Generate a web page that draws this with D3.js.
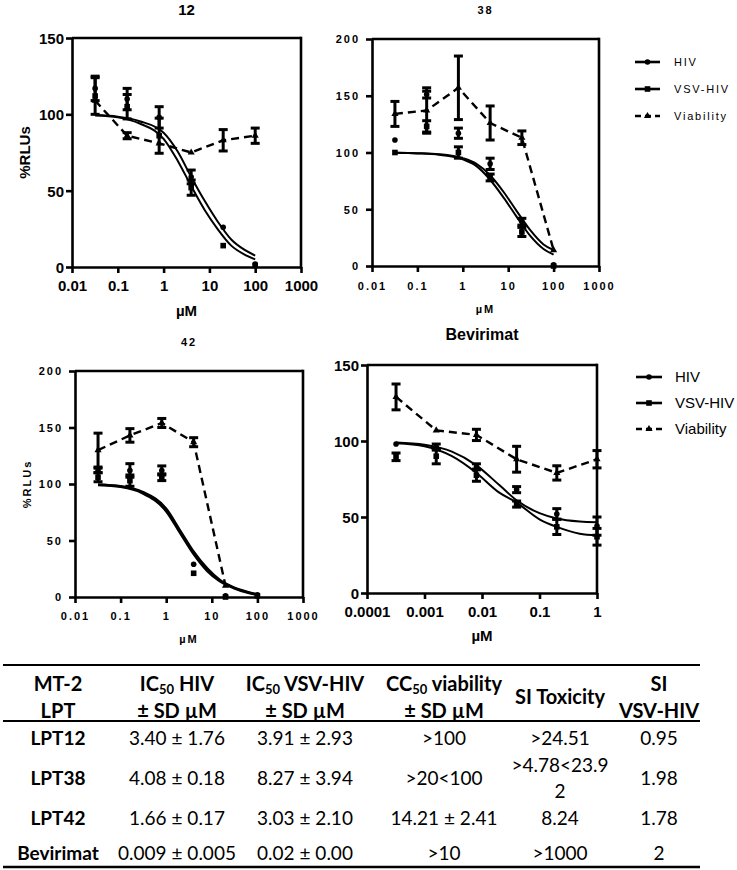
<!DOCTYPE html>
<html>
<head>
<meta charset="utf-8">
<script src="https://cdn.jsdelivr.net/npm/d3@7"></script>
<style>
  body { margin: 0; background: #fff; }
  svg { display: block; }
</style>
</head>
<body>
<div id="main"></div>
<script>

// dilutions (uM)
const conc = [0.032, 0.16, 0.8, 4, 20, 100];
const concBev = [0.00032, 0.0016, 0.008, 0.04, 0.2, 1];
const fitX = [0.032, 0.1, 0.3, 1, 2, 4, 8, 15, 30, 60, 100];
const fitXBev = [0.00032, 0.001, 0.003, 0.008, 0.02, 0.04, 0.1, 0.2, 0.5, 1];

// LPT 12
const hiv12 = [117, 110, 98, 59, 26, 2];
const hiv12Sd = [8, 7, 7, 4.5, 0, 0];
const vsv12 = [112, 105, 86, 52, 14, 1];
const vsv12Sd = [12, 8, 11.5, 5, 0, 0];
const via12 = [109, 86, 81, 75, 83, 86];
const via12Sd = [0, 2, 0, 0, 7, 5];
const fitHiv12 = [99.5, 98.5, 95.5, 88, 76, 59, 43, 30, 18, 11, 7.5];
const fitVsv12 = [99.3, 98, 94, 84, 70, 53, 37, 25, 14, 8, 5];

// LPT 38
const hiv38 = [111, 151, 117, 90, 39, 1];
const hiv38Sd = [0, 3, 4.5, 5, 3, 0];
const vsv38 = [100, 123, 100, 78, 30, 0];
const vsv38Sd = [0, 5, 5, 3, 4, 0];
const via38 = [134, 137, 157, 126, 113, 14];
const via38Sd = [11, 20, 28, 15, 6, 0];
const fitHiv38 = [99.8, 99.4, 98.5, 95, 90, 80, 65, 49, 32, 19, 14];
const fitVsv38 = [99.7, 99.2, 98, 94, 88, 76, 60, 44, 27, 15, 10];

// LPT 42
const hiv42 = [112, 112, 112, 29, 1, 2];
const hiv42Sd = [2, 6, 4, 0, 0, 0];
const vsv42 = [106, 103, 106, 21, 0, 1];
const vsv42Sd = [4, 5, 3, 0, 0, 0];
const via42 = [130, 143, 154, 137, 10, null];
const via42Sd = [15, 6, 4, 4, 0, 0];
const fitHiv42 = [99.4, 98, 93, 78, 59, 40, 25, 15, 8.5, 4.5, 2.3];
const fitVsv42 = [99.2, 97.5, 92, 76, 57, 38, 23, 14, 8, 4, 2];

// Bevirimat
const hivBev = [98, 96, 83, 68, 52, 44];
const hivBevSd = [0, 2, 2, 2, 3.5, 6];
const vsvBev = [89.6, 90, 77.5, 58.5, 43.5, 37];
const vsvBevSd = [2.5, 5, 4, 2, 5, 5.5];
const viaBev = [129, 107, 104, 88, 79, 88];
const viaBevSd = [8.5, 0, 3.7, 8.5, 4.7, 5.7];
const fitHivBev = [99, 97.5, 93, 84, 71, 61, 52.5, 49, 47, 46.5];
const fitVsvBev = [98.5, 96.5, 90, 79, 66, 59.5, 48.5, 43.5, 39, 38];

// axis ticks
const xTicks = [0.01, 0.1, 1, 10, 100, 1000];
const xTickLabels = ['0.01', '0.1', '1', '10', '100', '1000'];
const xTicksBev = [0.0001, 0.001, 0.01, 0.1, 1];
const xTickLabelsBev = ['0.0001', '0.001', '0.01', '0.1', '1'];
const yTicks150 = [0, 50, 100, 150];
const yTicks200 = [0, 50, 100, 150, 200];

const legendNames = ['HIV', 'VSV-HIV', 'Viability'];

// table
const tableHead = ['MT-2|LPT', 'IC50 HIV|± SD µM', 'IC50 VSV-HIV|± SD µM', 'CC50 viability|± SD µM', 'SI Toxicity', 'SI|VSV-HIV'];
const rowNames = ['LPT12', 'LPT38', 'LPT42', 'Bevirimat'];
const colIcHiv = ['3.40 ± 1.76', '4.08 ± 0.18', '1.66 ± 0.17', '0.009 ± 0.005'];
const colIcVsv = ['3.91 ± 2.93', '8.27 ± 3.94', '3.03 ± 2.10', '0.02 ± 0.00'];
const colCc = ['>100', '>20<100', '14.21 ± 2.41', '>10'];
const colSiTox = ['>24.51', '>4.78<23.9|2', '8.24', '>1000'];
const colSiVsv = ['0.95', '1.98', '1.78', '2'];


const W = 737, H = 870;
const FONT = "Arial, 'Liberation Sans', Helvetica, sans-serif";

const svg = d3.select('#main').append('svg')
    .attr('width', W).attr('height', H)
    .style('font-family', FONT);

const big = { size: 15, spacing: 0 };
const small = { size: 11, spacing: 2 };

function txt(g, x, y, s, st, anchor, weight) {
    return g.append('text')
        .attr('x', x).attr('y', y)
        .attr('text-anchor', anchor || 'middle')
        .style('font-family', FONT)
        .style('font-size', st.size + 'px')
        .style('font-weight', weight || 'bold')
        .style('letter-spacing', st.spacing + 'px')
        .text(s);
}

function marker(g, type, cx, cy) {
    if (type === 'circle') {
        g.append('circle').attr('cx', cx).attr('cy', cy).attr('r', 2.8).attr('fill', '#000');
    } else if (type === 'square') {
        g.append('rect').attr('x', cx - 2.8).attr('y', cy - 2.8).attr('width', 5.6).attr('height', 5.6).attr('fill', '#000');
    } else {
        g.append('path').attr('d', d3.symbol(d3.symbolTriangle, 22)())
            .attr('transform', `translate(${cx},${cy})`).attr('fill', '#000');
    }
}

function panel(cfg) {
    const g = svg.append('g');
    const x = d3.scaleLog().domain(cfg.xDomain).range([cfg.left, cfg.right]);
    const y = d3.scaleLinear().domain(cfg.yDomain).range([cfg.bottom, cfg.top]);

    // fitted curves
    const line = d3.line().x(d => x(d[0])).y(d => y(d[1])).curve(d3.curveMonotoneX);
    cfg.fits.forEach(f => {
        g.append('path').datum(f.xs.map((v, i) => [v, f.ys[i]]))
            .attr('d', line).attr('fill', 'none')
            .attr('stroke', '#000').attr('stroke-width', cfg.fitWidth || 2);
    });

    // viability, dashed straight segments
    const vline = d3.line().defined(d => d[1] != null).x(d => x(d[0])).y(d => y(d[1]));
    g.append('path').datum(cfg.conc.map((v, i) => [v, cfg.via[i]]))
        .attr('d', vline).attr('fill', 'none')
        .attr('stroke', '#000').attr('stroke-width', 2.4)
        .attr('stroke-dasharray', '8,5');

    // points + error bars
    cfg.series.forEach(s => {
        cfg.conc.forEach((c, i) => {
            const m = s.ys[i];
            if (m == null) return;
            const cx = x(c);
            const sd = s.sd[i];
            if (sd > 0) {
                const y0 = y(m - sd), y1 = y(m + sd);
                g.append('line').attr('x1', cx).attr('x2', cx).attr('y1', y0).attr('y2', y1)
                    .attr('stroke', '#000').attr('stroke-width', 3);
                [y0, y1].forEach(yy => g.append('line')
                    .attr('x1', cx - 4.5).attr('x2', cx + 4.5).attr('y1', yy).attr('y2', yy)
                    .attr('stroke', '#000').attr('stroke-width', 3));
            }
            marker(g, s.marker, cx, y(m));
        });
    });

    // axes
    const st = cfg.style;
    const ax = g.append('g').attr('transform', `translate(0,${cfg.bottom})`)
        .call(d3.axisBottom(x).tickValues(cfg.xTicks).tickSize(6).tickSizeOuter(0)
            .tickFormat((d, i) => cfg.xLabels[i]));
    const ay = g.append('g').attr('transform', `translate(${cfg.left},0)`)
        .call(d3.axisLeft(y).tickValues(cfg.yTicks).tickSize(6).tickSizeOuter(0));
    [ax, ay].forEach(a => {
        a.attr('font-family', null);
        a.selectAll('path,line').attr('stroke', '#000').attr('stroke-width', 2.6);
        a.selectAll('text').attr('fill', '#000')
            .style('font-family', FONT).style('font-size', st.size + 'px')
            .style('font-weight', 'bold').style('letter-spacing', st.spacing + 'px');
    });
    ax.selectAll('text').attr('y', cfg.xLabelDy).attr('dy', 0);
    ay.selectAll('text').attr('x', -cfg.yLabelDx).attr('dy', '0.36em');

    // box top and right
    g.append('line').attr('x1', cfg.left).attr('x2', cfg.right).attr('y1', cfg.top).attr('y2', cfg.top)
        .attr('stroke', '#000').attr('stroke-width', 2.6);
    g.append('line').attr('x1', cfg.right).attr('x2', cfg.right).attr('y1', cfg.top - 1.3).attr('y2', cfg.bottom + 1.3)
        .attr('stroke', '#000').attr('stroke-width', 2.6);

    // titles
    const cxm = (cfg.left + cfg.right) / 2;
    txt(g, cxm, cfg.titleY, cfg.title, cfg.titleStyle);
    txt(g, cxm, cfg.xTitleY, 'µM', st);
    if (cfg.yTitle) {
        txt(g, 0, 0, '%RLUs', st)
            .attr('transform', `translate(${cfg.yTitleX},${(cfg.top + cfg.bottom) / 2}) rotate(-90)`);
    }

    // legend
    if (cfg.legend) {
        const L = cfg.legend;
        const kinds = ['circle', 'square', 'triangle'];
        legendNames.forEach((n, i) => {
            const yy = L.y0 + i * L.dy;
            g.append('line').attr('x1', L.x0).attr('x2', L.x1).attr('y1', yy).attr('y2', yy)
                .attr('stroke', '#000').attr('stroke-width', 2.6)
                .attr('stroke-dasharray', i === 2 ? '6,4' : null);
            marker(g, kinds[i], (L.x0 + L.x1) / 2, yy);
            txt(g, L.tx, yy, n, L.style, 'start', 'normal').attr('dy', '0.36em');
        });
    }
}

panel({
    left: 72, right: 301, top: 38, bottom: 267,
    xDomain: [0.01, 1000], yDomain: [0, 150],
    xTicks: xTicks, xLabels: xTickLabels, yTicks: yTicks150,
    style: big, titleStyle: big, xLabelDy: 24, yLabelDx: 8,
    title: '12', titleY: 15, xTitleY: 316, yTitle: true, yTitleX: 30,
    conc: conc, via: via12,
    series: [
        { ys: hiv12, sd: hiv12Sd, marker: 'circle' },
        { ys: vsv12, sd: vsv12Sd, marker: 'square' },
        { ys: via12, sd: via12Sd, marker: 'triangle' }
    ],
    fits: [{ xs: fitX, ys: fitHiv12 }, { xs: fitX, ys: fitVsv12 }]
});

panel({
    left: 372, right: 599, top: 39, bottom: 266,
    xDomain: [0.01, 1000], yDomain: [0, 200],
    xTicks: xTicks, xLabels: xTickLabels, yTicks: yTicks200,
    style: small, titleStyle: small, xLabelDy: 24, yLabelDx: 12,
    title: '38', titleY: 14, xTitleY: 313, yTitle: false,
    conc: conc, via: via38,
    series: [
        { ys: hiv38, sd: hiv38Sd, marker: 'circle' },
        { ys: vsv38, sd: vsv38Sd, marker: 'square' },
        { ys: via38, sd: via38Sd, marker: 'triangle' }
    ],
    fits: [{ xs: fitX, ys: fitHiv38 }, { xs: fitX, ys: fitVsv38 }],
    legend: { x0: 635, x1: 660, tx: 674, y0: 62, dy: 27, style: { size: 11, spacing: 1.8 } }
});

panel({
    left: 75, right: 303, top: 371, bottom: 597,
    xDomain: [0.01, 1000], yDomain: [0, 200],
    xTicks: xTicks, xLabels: xTickLabels, yTicks: yTicks200,
    style: small, titleStyle: small, xLabelDy: 23, yLabelDx: 12,
    title: '42', titleY: 346, xTitleY: 643, yTitle: true, yTitleX: 31,
    conc: conc, via: via42,
    series: [
        { ys: hiv42, sd: hiv42Sd, marker: 'circle' },
        { ys: vsv42, sd: vsv42Sd, marker: 'square' },
        { ys: via42, sd: via42Sd, marker: 'triangle' }
    ],
    fits: [{ xs: fitX, ys: fitHiv42 }, { xs: fitX, ys: fitVsv42 }],
    fitWidth: 2.6
});

panel({
    left: 367, right: 597, top: 365, bottom: 593,
    xDomain: [0.0001, 1], yDomain: [0, 150],
    xTicks: xTicksBev, xLabels: xTickLabelsBev, yTicks: yTicks150,
    style: big, titleStyle: { size: 16, spacing: 0 }, xLabelDy: 24, yLabelDx: 8,
    title: 'Bevirimat', titleY: 340, xTitleY: 641, yTitle: false,
    conc: concBev, via: viaBev,
    series: [
        { ys: hivBev, sd: hivBevSd, marker: 'circle' },
        { ys: vsvBev, sd: vsvBevSd, marker: 'square' },
        { ys: viaBev, sd: viaBevSd, marker: 'triangle' }
    ],
    fits: [{ xs: fitXBev, ys: fitHivBev }, { xs: fitXBev, ys: fitVsvBev }],
    legend: { x0: 636, x1: 662, tx: 675, y0: 377, dy: 26, style: { size: 15, spacing: 0 } }
});


// ---- table ----
const TFONT = "Lato, 'Open Sans', sans-serif";
const colX = [58, 177, 305, 444, 560, 659];
const tableRows = rowNames.map((n, i) => [n, colIcHiv[i], colIcVsv[i], colCc[i], colSiTox[i], colSiVsv[i]]);
const rowY = [738, 778, 818, 853];
const tg = svg.append('g').attr('fill', '#000');

[[665, 2], [721, 2], [867, 2.6]].forEach(([yy, w]) => {
    tg.append('line').attr('x1', 3).attr('x2', 700).attr('y1', yy).attr('y2', yy)
        .attr('stroke', '#000').attr('stroke-width', w);
});

function cellText(x, yc, str, weight, size, gap) {
    const lines = str.split('|');
    const y0 = yc - (lines.length - 1) * gap / 2;
    lines.forEach((l, k) => {
        const t = tg.append('text').attr('x', x).attr('y', y0 + k * gap).attr('dy', '0.35em')
            .attr('text-anchor', 'middle')
            .style('font-family', TFONT)
            .style('font-size', size + 'px').style('font-weight', weight);
        const m = l.match(/^(IC|CC)50(.*)$/);
        if (m) {
            t.append('tspan').text(m[1]);
            t.append('tspan').text('50').style('font-size', (size * 0.65) + 'px').attr('dy', '0.25em');
            t.append('tspan').text(m[2]).attr('dy', '-0.16em');
        } else {
            t.text(l);
        }
    });
}

tableHead.forEach((h, j) => cellText(colX[j], 697, h, 'bold', 20, 27));
tableRows.forEach((r, i) => {
    r.forEach((c, j) => cellText(colX[j], rowY[i], c, j === 0 ? 'bold' : 'normal', 19, 26));
});

</script>
</body>
</html>
